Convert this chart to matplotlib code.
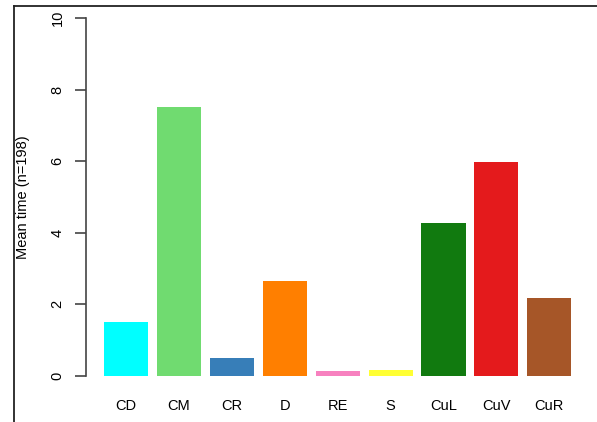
import matplotlib
matplotlib.use("Agg")
import matplotlib.pyplot as plt
from matplotlib.lines import Line2D

categories = ["CD", "CM", "CR", "D", "RE", "S", "CuL", "CuV", "CuR"]
mean_time = [1.51, 7.51, 0.50, 2.65, 0.13, 0.17, 4.27, 5.98, 2.18]
bar_colors = ["#00FFFF", "#70DB70", "#377EB8", "#FF7F00", "#F781BF",
              "#FFFF33", "#117A0F", "#E41A1C", "#A65628"]
y_ticks = [0, 2, 4, 6, 8, 10]

plt.rcParams["font.family"] = ["Liberation Sans", "DejaVu Sans"]

W, H = 597, 422
fig = plt.figure(figsize=(W / 100, H / 100), dpi=100)

# plot region in pixel coordinates
left_px, right_px, top_px, bottom_px = 85.5, 590.0, 3.7, 390.3
ax = fig.add_axes([left_px / W, (H - bottom_px) / H,
                   (right_px - left_px) / W, (bottom_px - top_px) / H])

# R-style barplot layout: width 1, spacing 0.2
n = len(categories)
lefts = [0.2 + i * 1.2 for i in range(n)]
centers = [l + 0.5 for l in lefts]
ax.bar(centers, mean_time, width=1.0, color=bar_colors, edgecolor="none")

x_lo, x_hi = 0.2, 0.2 + n * 1.2 - 0.2
pad = 0.04 * (x_hi - x_lo)
ax.set_xlim(x_lo - pad, x_hi + pad)
ax.set_ylim(-0.4, 10.4)

for s in ["top", "right", "bottom"]:
    ax.spines[s].set_visible(False)
ax.spines["left"].set_bounds(0, 10)
ax.spines["left"].set_color("#444444")
ax.spines["left"].set_linewidth(1.2)

ax.set_yticks(y_ticks)
ax.set_yticklabels([str(v) for v in y_ticks], rotation=90, va="center",
                   fontsize=10.5)
ax.tick_params(axis="y", length=8, width=1.2, color="#444444", pad=7)

ax.set_xticks(centers)
ax.set_xticklabels(categories, fontsize=10.5)
ax.tick_params(axis="x", length=0, pad=6)

ax.set_ylabel("Mean time (n=198)", fontsize=10.5, labelpad=15)

# outer frame lines
fig.add_artist(Line2D([14 / W, 14 / W], [0, (H - 6) / H],
                      transform=fig.transFigure, color="#222222", lw=1.3))
fig.add_artist(Line2D([14 / W, 1.0], [(H - 6) / H, (H - 6) / H],
                      transform=fig.transFigure, color="#222222", lw=1.3))

fig.savefig("out.png", dpi=100)
